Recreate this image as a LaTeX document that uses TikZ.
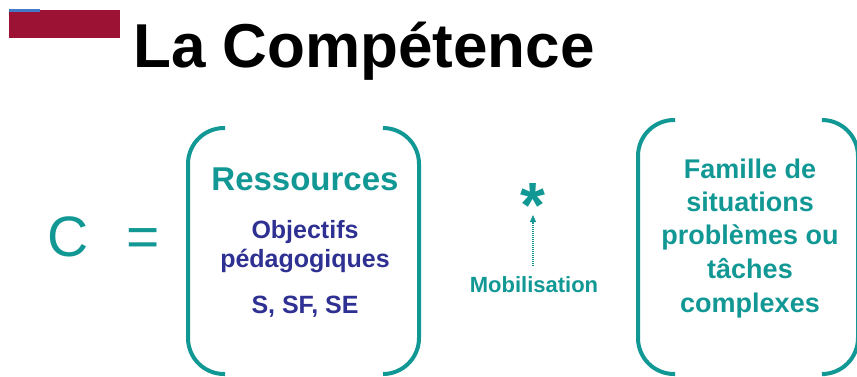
\documentclass[tikz,border=0pt]{standalone}
\usepackage{fontspec}
\setmainfont{Liberation Sans}
\usetikzlibrary{arrows.meta}
\definecolor{teal1}{RGB}{18,152,148}
\definecolor{navy1}{RGB}{46,48,146}
\definecolor{bar1}{RGB}{155,18,52}
\definecolor{blue1}{RGB}{70,120,200}
\tikzset{
  bracket/.style={draw=teal1, line width=4pt, rounded corners=36pt},
  tealtxt/.style={text=teal1, inner sep=0pt, anchor=base, font=\bfseries\fontsize{27}{27}\selectfont},
  navytxt/.style={text=navy1, inner sep=0pt, anchor=base, font=\bfseries\fontsize{25}{25}\selectfont},
}
\begin{document}
\begin{tikzpicture}[x=1pt,y=-1pt]
\useasboundingbox (0,0) rectangle (857,376);
\fill[bar1] (9,10) rectangle (120,38);
\fill[blue1] (9,9) rectangle (40,11.5);
\node[inner sep=0pt, anchor=base west, font=\bfseries\fontsize{62}{62}\selectfont] (title) at (133,67) {La Compétence};
\node[inner sep=0pt, anchor=base, text=teal1, font=\fontsize{57}{57}\selectfont] (c) at (68,256) {C};
\node[inner sep=0pt, anchor=base, text=teal1, font=\fontsize{57}{57}\selectfont] (eq) at (143,256) {=};
% left box
\draw[bracket] (225,128) -- (188,128) -- (188,374) -- (225,374);
\draw[bracket] (383,128) -- (419,128) -- (419,374) -- (383,374);
\node[tealtxt, font=\bfseries\fontsize{33}{33}\selectfont] (res) at (305,190) {Ressources};
\node[navytxt] (obj1) at (305,238) {Objectifs};
\node[navytxt] (obj2) at (305,267) {pédagogiques};
\node[navytxt] (obj3) at (305,313) {S, SF, SE};
% middle
\node[inner sep=0pt, text=teal1, font=\bfseries\fontsize{64}{64}\selectfont] (star) at (533,205) {*};
\node[tealtxt, font=\bfseries\fontsize{22}{22}\selectfont] (mob) at (534,292) {Mobilisation};
\coordinate (tip) at (533,215);
\coordinate (tail) at (533,266);
\draw[teal1, line width=1.1pt, dash pattern=on 1pt off 1pt, -{Triangle[width=6pt,length=7pt]}] (tail) -- (tip);
% right box
\draw[bracket] (675,120) -- (638,120) -- (638,374) -- (675,374);
\draw[bracket] (825,120) -- (858,120) -- (858,374) -- (825,374);
\node[tealtxt] (f1) at (750,178) {Famille de};
\node[tealtxt] (f2) at (750,211) {situations};
\node[tealtxt] (f3) at (750,244) {problèmes ou};
\node[tealtxt] (f4) at (750,278) {tâches};
\node[tealtxt] (f5) at (750,312) {complexes};
\end{tikzpicture}
\end{document}
